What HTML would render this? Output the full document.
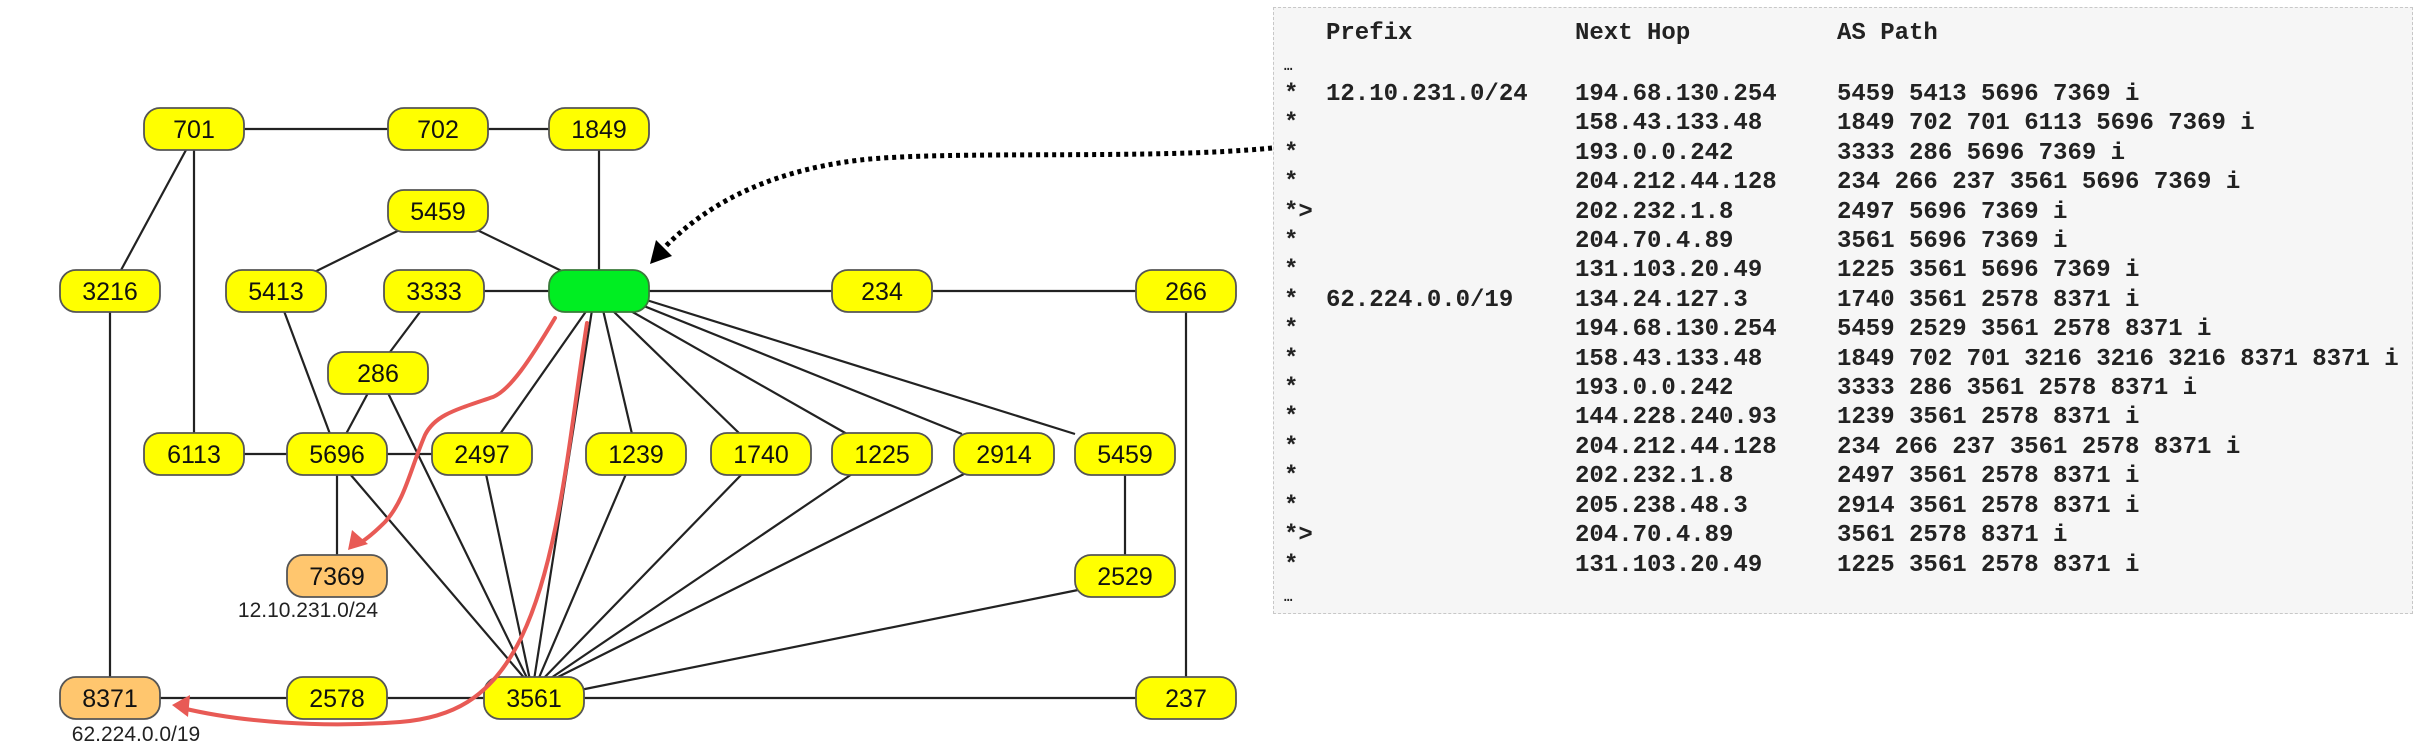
<!DOCTYPE html>
<html><head><meta charset="utf-8"><style>
html,body{margin:0;padding:0;background:#fff;}
body{width:2435px;height:747px;position:relative;overflow:hidden;}
svg{position:absolute;left:0;top:0;}
.panel{position:absolute;left:1273px;top:7px;width:1140px;height:607px;background:#f6f6f6;border:1.5px dashed #c8c8c8;box-sizing:border-box;}
.t{position:absolute;font-family:"Liberation Mono",monospace;font-weight:bold;font-size:24px;color:#222;white-space:pre;line-height:24px;}
.c{line-height:29.4px;top:80px;}
</style></head><body>
<svg width="2435" height="747" viewBox="0 0 2435 747">
<g stroke="#222" stroke-width="2.2" fill="none">
<line x1="194" y1="129" x2="438" y2="129"/>
<line x1="438" y1="129" x2="599" y2="129"/>
<line x1="599" y1="129" x2="599" y2="291"/>
<line x1="186" y1="150" x2="120" y2="272"/>
<line x1="194" y1="129" x2="194" y2="454"/>
<line x1="438" y1="211" x2="276" y2="291"/>
<line x1="438" y1="211" x2="570" y2="275"/>
<line x1="434" y1="291" x2="599" y2="291"/>
<line x1="599" y1="291" x2="1186" y2="291"/>
<line x1="1186" y1="291" x2="1186" y2="698"/>
<line x1="110" y1="291" x2="110" y2="698"/>
<line x1="284" y1="311" x2="330" y2="434"/>
<line x1="420" y1="312" x2="390" y2="352"/>
<line x1="368" y1="393" x2="346" y2="434"/>
<line x1="388" y1="393" x2="528" y2="680"/>
<line x1="194" y1="454" x2="482" y2="454"/>
<line x1="337" y1="454" x2="337" y2="576"/>
<line x1="350" y1="474" x2="526" y2="680"/>
<line x1="486" y1="474" x2="530" y2="680"/>
<line x1="587" y1="310" x2="500" y2="434"/>
<line x1="592" y1="310" x2="534" y2="680"/>
<line x1="603" y1="310" x2="632" y2="434"/>
<line x1="626" y1="474" x2="538" y2="680"/>
<line x1="612" y1="310" x2="740" y2="434"/>
<line x1="742" y1="474" x2="542" y2="680"/>
<line x1="622" y1="306" x2="847" y2="434"/>
<line x1="852" y1="474" x2="548" y2="680"/>
<line x1="634" y1="302" x2="962" y2="434"/>
<line x1="964" y1="474" x2="552" y2="680"/>
<line x1="640" y1="298" x2="1075" y2="434"/>
<line x1="1125" y1="454" x2="1125" y2="576"/>
<line x1="1078" y1="590" x2="580" y2="690"/>
<line x1="110" y1="698" x2="1186" y2="698"/>
</g>
<g font-family="Liberation Sans, Arial, sans-serif" font-size="25" text-anchor="middle" stroke-width="1.8">
<g stroke="#555" fill="#ffff00">
<rect x="144" y="108" width="100" height="42" rx="16"/>
<rect x="388" y="108" width="100" height="42" rx="16"/>
<rect x="549" y="108" width="100" height="42" rx="16"/>
<rect x="388" y="190" width="100" height="42" rx="16"/>
<rect x="60" y="270" width="100" height="42" rx="16"/>
<rect x="226" y="270" width="100" height="42" rx="16"/>
<rect x="384" y="270" width="100" height="42" rx="16"/>
<rect x="832" y="270" width="100" height="42" rx="16"/>
<rect x="1136" y="270" width="100" height="42" rx="16"/>
<rect x="328" y="352" width="100" height="42" rx="16"/>
<rect x="144" y="433" width="100" height="42" rx="16"/>
<rect x="287" y="433" width="100" height="42" rx="16"/>
<rect x="432" y="433" width="100" height="42" rx="16"/>
<rect x="586" y="433" width="100" height="42" rx="16"/>
<rect x="711" y="433" width="100" height="42" rx="16"/>
<rect x="832" y="433" width="100" height="42" rx="16"/>
<rect x="954" y="433" width="100" height="42" rx="16"/>
<rect x="1075" y="433" width="100" height="42" rx="16"/>
<rect x="1075" y="555" width="100" height="42" rx="16"/>
<rect x="287" y="677" width="100" height="42" rx="16"/>
<rect x="484" y="677" width="100" height="42" rx="16"/>
<rect x="1136" y="677" width="100" height="42" rx="16"/>
</g>
<rect x="549" y="270" width="100" height="42" rx="16" fill="#00ee22" stroke="#3a7a3a"/>
<rect x="287" y="555" width="100" height="42" rx="16" fill="#ffc66e" stroke="#555"/>
<rect x="60" y="677" width="100" height="42" rx="16" fill="#ffc66e" stroke="#555"/>
<g fill="#111">
<text x="194" y="138">701</text><text x="438" y="138">702</text><text x="599" y="138">1849</text>
<text x="438" y="220">5459</text>
<text x="110" y="300">3216</text><text x="276" y="300">5413</text><text x="434" y="300">3333</text>
<text x="882" y="300">234</text><text x="1186" y="300">266</text>
<text x="378" y="382">286</text>
<text x="194" y="463">6113</text><text x="337" y="463">5696</text><text x="482" y="463">2497</text>
<text x="636" y="463">1239</text><text x="761" y="463">1740</text><text x="882" y="463">1225</text>
<text x="1004" y="463">2914</text><text x="1125" y="463">5459</text>
<text x="337" y="585">7369</text><text x="1125" y="585">2529</text>
<text x="110" y="707">8371</text><text x="337" y="707">2578</text><text x="534" y="707">3561</text><text x="1186" y="707">237</text>
</g>
<g fill="#222" font-size="21">
<text x="308" y="617">12.10.231.0/24</text>
<text x="136" y="741">62.224.0.0/19</text>
</g>
</g>
<g stroke="#e85a55" stroke-width="4" fill="none" stroke-linecap="round">
<path d="M555,318 C530,360 510,390 493,397 C455,410 435,415 425,435 C410,470 405,500 385,522 C375,532 368,538 360,543"/>
<path d="M587,323 C570,430 560,560 520,640 C490,700 450,718 400,722 C320,728 240,722 182,708"/>
</g>
<path d="M348,550 L352,530 L368,544 z" fill="#e85a55"/>
<path d="M172,705 L190,695 L188,717 z" fill="#e85a55"/>
<path d="M1272,148 C1150,160 950,150 860,160 C760,172 700,210 662,250" stroke="#000" stroke-width="5" stroke-dasharray="4,4" fill="none"/>
<path d="M650,264 L656,240 L672,256 z" fill="#000"/>
</svg>
<div class="panel"></div>
<div class="t" style="left:1326px;top:22px">Prefix</div>
<div class="t" style="left:1575px;top:22px">Next Hop</div>
<div class="t" style="left:1837px;top:22px">AS Path</div>
<div class="t" style="left:1284px;top:55px;font-size:14px">…</div>
<div class="t c" style="left:1284px">*
*
*
*
*>
*
*
*
*
*
*
*
*
*
*
*>
*</div>
<div class="t c" style="left:1326px">12.10.231.0/24






62.224.0.0/19</div>
<div class="t c" style="left:1575px">194.68.130.254
158.43.133.48
193.0.0.242
204.212.44.128
202.232.1.8
204.70.4.89
131.103.20.49
134.24.127.3
194.68.130.254
158.43.133.48
193.0.0.242
144.228.240.93
204.212.44.128
202.232.1.8
205.238.48.3
204.70.4.89
131.103.20.49</div>
<div class="t c" style="left:1837px">5459 5413 5696 7369 i
1849 702 701 6113 5696 7369 i
3333 286 5696 7369 i
234 266 237 3561 5696 7369 i
2497 5696 7369 i
3561 5696 7369 i
1225 3561 5696 7369 i
1740 3561 2578 8371 i
5459 2529 3561 2578 8371 i
1849 702 701 3216 3216 3216 8371 8371 i
3333 286 3561 2578 8371 i
1239 3561 2578 8371 i
234 266 237 3561 2578 8371 i
2497 3561 2578 8371 i
2914 3561 2578 8371 i
3561 2578 8371 i
1225 3561 2578 8371 i</div>
<div class="t" style="left:1284px;top:586px;font-size:14px">…</div>
</body></html>
